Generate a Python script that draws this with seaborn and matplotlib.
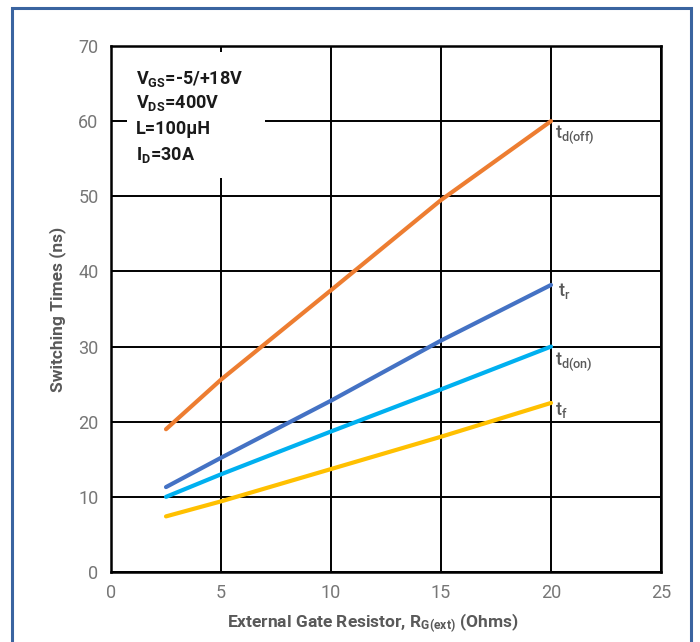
import matplotlib
matplotlib.use("Agg")
import matplotlib.pyplot as plt
from matplotlib.patches import Rectangle
import seaborn as sns
import pandas as pd

# External gate resistance (Ohms)
rg = [2.5, 5, 10, 15, 20]
# Switching times (ns)
td_off = [19.0, 25.6, 37.5, 49.5, 60.0]
t_r = [11.3, 15.2, 22.8, 30.8, 38.2]
td_on = [10.0, 13.0, 18.7, 24.3, 30.0]
t_f = [7.4, 9.4, 13.7, 18.0, 22.5]

series_names = ["td_off", "t_r", "td_on", "t_f"]
series_labels = [r"$\mathregular{t_{d(off)}}$", r"$\mathregular{t_r}$",
                 r"$\mathregular{t_{d(on)}}$", r"$\mathregular{t_f}$"]
series_colors = ["#ED7D31", "#4472C4", "#00B0F0", "#FFC000"]

conditions = [r"$\mathregular{V_{GS}}$=-5/+18V", r"$\mathregular{V_{DS}}$=400V",
              "L=100µH", r"$\mathregular{I_D}$=30A"]

x_ticks = [0, 5, 10, 15, 20, 25]
y_ticks = [0, 10, 20, 30, 40, 50, 60, 70]

df = pd.DataFrame({
    "rg": rg * 4,
    "time": td_off + t_r + td_on + t_f,
    "series": sum([[n] * len(rg) for n in series_names], []),
})

sns.set_theme(style="white")
plt.rcParams["font.family"] = ["Roboto", "DejaVu Sans"]

fig = plt.figure(figsize=(7.0, 6.42), dpi=100)
ax = fig.add_axes([111 / 700, 70 / 642, 550 / 700, 526 / 642])

gray = "#595959"

sns.lineplot(data=df, x="rg", y="time", hue="series",
             palette=dict(zip(series_names, series_colors)),
             linewidth=3.0, ax=ax, legend=False, zorder=3)

ax.set_xlim(0, 25)
ax.set_ylim(0, 70)
ax.set_xticks(x_ticks)
ax.set_yticks(y_ticks)
ax.set_axisbelow(True)
ax.grid(True, color="black", linewidth=1.4)
for s in ax.spines.values():
    s.set_color("black")
    s.set_linewidth(1.8)
ax.tick_params(axis="both", length=0, labelsize=13, labelcolor="#767676", pad=9)

ax.set_xlabel(r"External Gate Resistor, R$\mathregular{_{G(ext)}}$ (Ohms)",
              fontsize=12.5, fontweight="bold", color=gray)
ax.set_ylabel("Switching Times (ns)", fontsize=12.5, fontweight="bold",
              color=gray)
ax.xaxis.set_label_coords(0.475, -0.074)
ax.yaxis.set_label_coords(-0.082, 0.5)

# White panel holding the test conditions
ax.add_patch(Rectangle((0.73, 52.4), 6.27, 16.8, facecolor="white",
                       edgecolor="none", zorder=2))
cond_y = [65.6, 62.4, 58.9, 55.5]
for txt, yy in zip(conditions, cond_y):
    ax.text(1.15, yy, txt, fontsize=13, fontweight="bold", color="#1a1a1a",
            va="center", ha="left", zorder=4)

# Series labels at the right end of each curve
label_pos = [(20.2, 58.2), (20.3, 37.4), (20.2, 28.0), (20.2, 21.6)]
for lbl, (lx, ly) in zip(series_labels, label_pos):
    ax.text(lx, ly, lbl, fontsize=13, fontweight="medium", color=gray,
            va="center", ha="left", zorder=4)

# Outer frame
fig.patches.append(Rectangle((12 / 700, -0.05), 679 / 700, 1.05 - 8 / 642,
                             transform=fig.transFigure, facecolor="none",
                             edgecolor="#3A64A0", linewidth=2.2))

fig.savefig("out.png", dpi=100)
